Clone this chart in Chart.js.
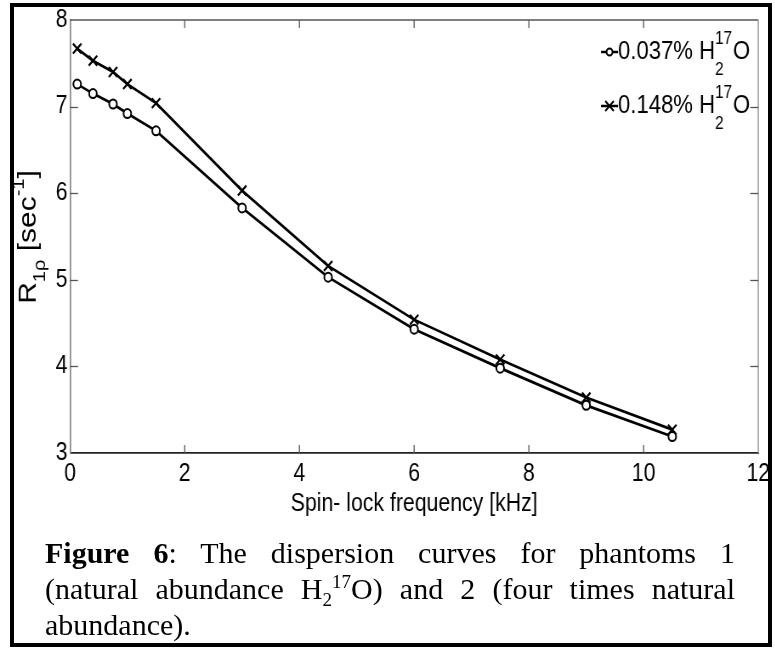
<!DOCTYPE html>
<html>
<head>
<meta charset="utf-8">
<script src="https://cdn.jsdelivr.net/npm/chart.js@4.4.1/dist/chart.umd.min.js"></script>
<style>
  html, body { margin: 0; padding: 0; background: #fff; width: 775px; height: 648px; overflow: hidden; }
  #frame { position: absolute; left: 10px; top: 3px; width: 754px; height: 636px; border: 4px solid #000; }
  #c { position: absolute; left: 0; top: 0; transform-origin: 0 0; transform: scaleX(0.85); }
  #cap { position: absolute; left: 45px; top: 535px; width: 690px; font-family: 'Liberation Serif', 'Times New Roman', serif;
         font-size: 30px; line-height: 36px; color: #000; }
  #cap div { text-align: justify; text-align-last: justify; white-space: nowrap; }
  #cap div.last { text-align-last: left; }
  #cap sub, #cap sup { font-size: 19px; line-height: 0; }
</style>
</head>
<body>
<div id="frame"></div>
<canvas id="c" width="912" height="648"></canvas>
<div id="cap">
  <div><b>Figure 6</b>: The dispersion curves for phantoms 1</div>
  <div>(natural abundance H<sub>2</sub><sup>17</sup>O) and 2 (four times natural</div>
  <div class="last">abundance).</div>
</div>
<script>
// ---- data ----
const freqKHz = [0.125, 0.4, 0.75, 1.0, 1.5, 3, 4.5, 6, 7.5, 9, 10.5];
const r1rho_0037 = [7.26, 7.15, 7.03, 6.92, 6.72, 5.83, 5.03, 4.43, 3.98, 3.55, 3.19];
const r1rho_0148 = [7.67, 7.53, 7.40, 7.26, 7.04, 6.03, 5.16, 4.54, 4.08, 3.64, 3.27];
const seriesNames = ['0.037%', '0.148%'];
const xTicks = [0, 2, 4, 6, 8, 10, 12];
const yTicks = [3, 4, 5, 6, 7, 8];

const S = 0.85;               // horizontal squeeze of the figure (CSS)
const FONT = "'Liberation Sans', Arial, sans-serif";

const boxPlugin = {
  id: 'boxPlugin',
  afterDraw(chart) {
    const ctx = chart.ctx;
    const a = chart.chartArea;
    const xs = chart.scales.x, ys = chart.scales.y;
    ctx.save();
    // top & right box lines
    ctx.lineWidth = 1.5;
    ctx.strokeStyle = '#555';
    ctx.beginPath(); ctx.moveTo(a.left, a.top); ctx.lineTo(a.right, a.top); ctx.stroke();
    ctx.strokeStyle = '#999';
    ctx.beginPath(); ctx.moveTo(a.right, a.top); ctx.lineTo(a.right, a.bottom); ctx.stroke();
    // inward ticks
    ctx.lineWidth = 1.3;
    ctx.strokeStyle = '#555';
    const tlx = 8, tly = 8 / S;
    xTicks.forEach(v => {
      const px = xs.getPixelForValue(v);
      if (v !== xs.min && v !== xs.max) {
        ctx.beginPath(); ctx.moveTo(px, a.bottom); ctx.lineTo(px, a.bottom - tlx); ctx.stroke();
        ctx.beginPath(); ctx.moveTo(px, a.top); ctx.lineTo(px, a.top + tlx); ctx.stroke();
      }
    });
    yTicks.forEach(v => {
      const py = Math.round(ys.getPixelForValue(v)) + 0.5;
      if (v !== ys.min && v !== ys.max) {
        ctx.beginPath(); ctx.moveTo(a.left, py); ctx.lineTo(a.left + tly, py); ctx.stroke();
        ctx.beginPath(); ctx.moveTo(a.right, py); ctx.lineTo(a.right - tly, py); ctx.stroke();
      }
    });
    ctx.fillStyle = '#000';
    // y-axis title, rotated, with sub/superscripts
    ctx.translate(29 / S, 237);
    ctx.rotate(-Math.PI / 2);
    const parts = [
      { t: 'R', f: 30, dy: 0 },
      { t: '1\u03C1', f: 20, dy: 13 },
      { t: ' [sec', f: 30, dy: 0 },
      { t: '-1', f: 20, dy: -12 },
      { t: ']', f: 30, dy: 0 }
    ];
    let total = 0;
    parts.forEach(p => { ctx.font = p.f + 'px ' + FONT; p.w = ctx.measureText(p.t).width; total += p.w; });
    let x = -total / 2;
    ctx.textBaseline = 'middle';
    ctx.textAlign = 'left';
    parts.forEach(p => { ctx.font = p.f + 'px ' + FONT; ctx.fillText(p.t, x, p.dy); x += p.w; });
    ctx.restore();

    // legend
    ctx.save();
    const rows = [
      { name: seriesNames[0], y: 52, ds: 0 },
      { name: seriesNames[1], y: 106, ds: 1 }
    ];
    const lx0 = 601 / S, lx1 = 618 / S, mx = 609.5 / S;
    rows.forEach(r => {
      const ds = chart.data.datasets[r.ds];
      ctx.strokeStyle = '#000';
      ctx.lineWidth = 2.5;
      ctx.beginPath(); ctx.moveTo(lx0, r.y); ctx.lineTo(lx1, r.y); ctx.stroke();
      ctx.lineWidth = 2;
      if (ds.pointStyle === 'circle') {
        ctx.fillStyle = '#fff';
        ctx.beginPath(); ctx.arc(mx, r.y, 3.5, 0, Math.PI * 2); ctx.fill(); ctx.stroke();
      } else {
        ctx.beginPath();
        ctx.moveTo(mx - 5, r.y - 5); ctx.lineTo(mx + 5, r.y + 5);
        ctx.moveTo(mx + 5, r.y - 5); ctx.lineTo(mx - 5, r.y + 5);
        ctx.stroke();
      }
      ctx.fillStyle = '#000';
      ctx.textBaseline = 'middle';
      ctx.textAlign = 'left';
      ctx.font = '26px ' + FONT;
      let tx = lx1;
      ctx.fillText(r.name + ' H', tx, r.y);
      tx += ctx.measureText(r.name + ' H').width;
      ctx.font = '18px ' + FONT;
      ctx.fillText('2', tx, r.y + 18);
      ctx.fillText('17', tx, r.y - 13);
      tx += ctx.measureText('17').width + 1;
      ctx.font = '26px ' + FONT;
      ctx.fillText('O', tx, r.y);
    });
    ctx.restore();
  }
};

new Chart(document.getElementById('c'), {
  type: 'line',
  data: {
    datasets: [
      {
        label: seriesNames[0],
        data: freqKHz.map((x, i) => ({ x, y: r1rho_0037[i] })),
        borderColor: '#000', borderWidth: 2.7,
        pointStyle: 'circle', pointRadius: 4.5, pointBorderWidth: 2,
        pointBackgroundColor: '#fff', pointBorderColor: '#000',
        tension: 0, fill: false
      },
      {
        label: seriesNames[1],
        data: freqKHz.map((x, i) => ({ x, y: r1rho_0148[i] })),
        borderColor: '#000', borderWidth: 2.7,
        pointStyle: 'crossRot', pointRadius: 7, pointBorderWidth: 2.2,
        pointBorderColor: '#000',
        tension: 0, fill: false
      }
    ]
  },
  options: {
    responsive: false,
    animation: false,
    layout: { padding: { left: 0, top: 20, right: 912 - 762 / S, bottom: 123 } },
    plugins: { legend: { display: false }, tooltip: { enabled: false } },
    scales: {
      x: {
        type: 'linear', min: 0, max: 12,
        afterBuildTicks: s => { s.ticks = xTicks.map(v => ({ value: v })); },
        ticks: { color: '#000', font: { family: FONT, size: 25 }, padding: 6, maxRotation: 0 },
        grid: { display: true, drawOnChartArea: false, drawTicks: false },
        border: { display: true, color: '#222', width: 1.7 },
        title: { display: true, text: 'Spin- lock frequency [kHz]', color: '#000',
                 font: { family: FONT, size: 25 }, padding: { top: 0, bottom: 6 } },
        afterFit: s => { s.height = 72; }
      },
      y: {
        type: 'linear', min: 3, max: 8,
        afterBuildTicks: s => { s.ticks = yTicks.map(v => ({ value: v })); },
        ticks: { color: '#000', font: { family: FONT, size: 25 }, padding: 3 },
        grid: { display: true, drawOnChartArea: false, drawTicks: false },
        border: { display: true, color: '#888', width: 1.7 },
        afterFit: s => { s.width = 70 / S; }
      }
    }
  },
  plugins: [boxPlugin]
});
</script>
</body>
</html>
